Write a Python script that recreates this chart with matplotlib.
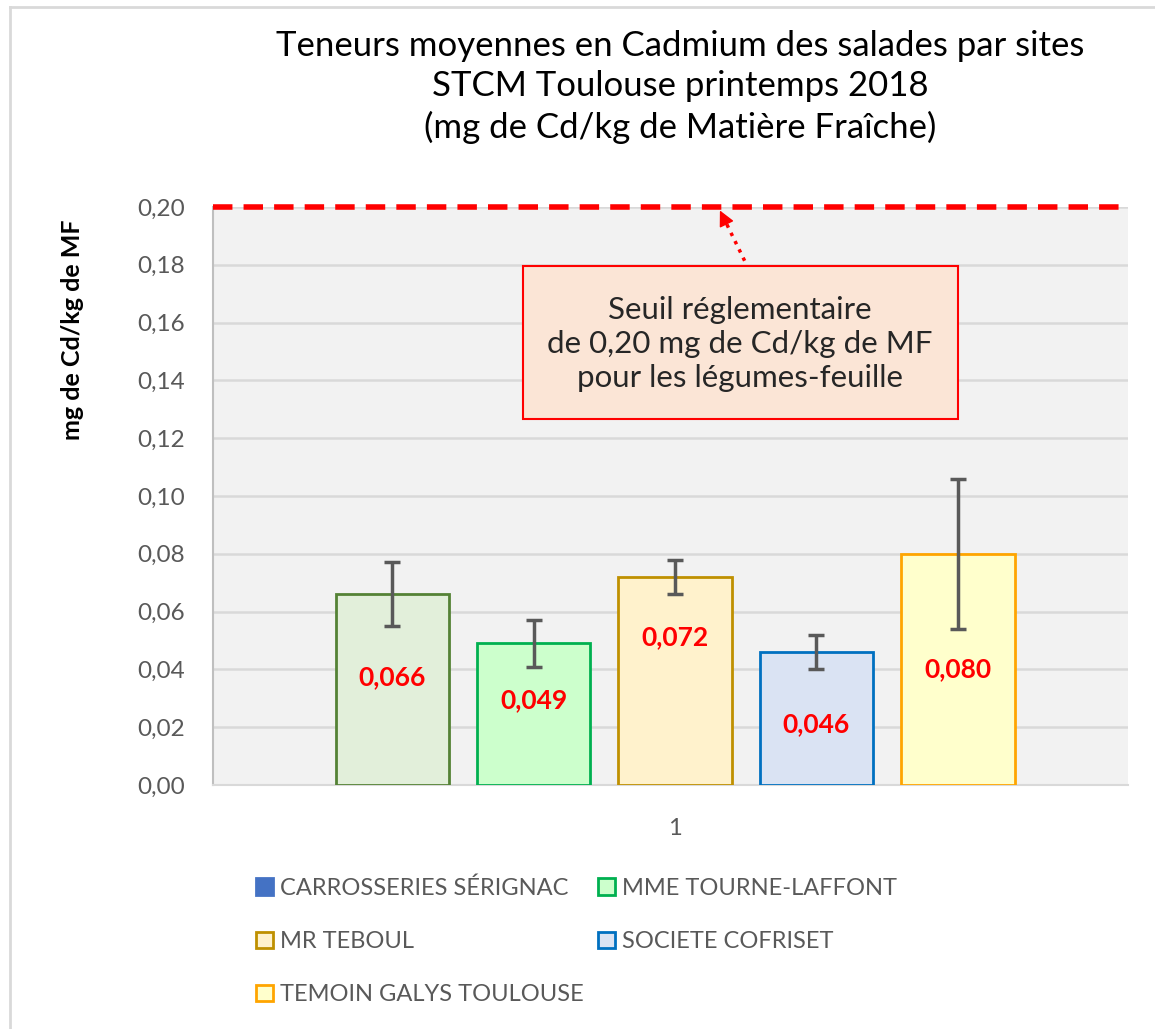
import matplotlib
matplotlib.use("Agg")
import matplotlib.pyplot as plt
from matplotlib.patches import Patch, Rectangle
from matplotlib.lines import Line2D

plt.rcParams['font.family'] = ['Lato', 'DejaVu Sans']

# data
sites = ["CARROSSERIES SÉRIGNAC", "MME TOURNE-LAFFONT", "MR TEBOUL",
         "SOCIETE COFRISET", "TEMOIN GALYS TOULOUSE"]
values = [0.066, 0.049, 0.072, 0.046, 0.080]
errors = [0.011, 0.008, 0.006, 0.006, 0.026]
value_labels = ["0,066", "0,049", "0,072", "0,046", "0,080"]
threshold = 0.20
yticks = [0.00, 0.02, 0.04, 0.06, 0.08, 0.10, 0.12, 0.14, 0.16, 0.18, 0.20]

# styles
fills = ["#E2EFDA", "#CCFFCC", "#FFF2CC", "#DAE3F3", "#FFFFCC"]
edges = ["#548235", "#00B050", "#BF9000", "#0070C0", "#FFA500"]
legend_fills = ["#4472C4", "#CCFFCC", "#FFF2CC", "#DAE3F3", "#FFFFCC"]
legend_edges = ["#4472C4", "#00B050", "#BF9000", "#0070C0", "#FFA500"]
label_y = [0.0374, 0.0294, 0.051, 0.021, 0.040]

W, H = 1155, 1029
fig = plt.figure(figsize=(W / 100, H / 100), dpi=100)
ax = fig.add_axes([213 / W, 1 - 785 / H, 915 / W, 578 / H])
ax.set_facecolor("#F2F2F2")

step = 0.1545
width = 0.124
xs = [1 + (i - 2) * step for i in range(len(values))]
ax.bar(xs, values, width=width, color=fills, edgecolor=edges, linewidth=2, zorder=3)
ax.errorbar(xs, values, yerr=errors, fmt="none", ecolor="#595959",
            elinewidth=2.5, capsize=6, capthick=2.5, zorder=4)
for x, ly, t in zip(xs, label_y, value_labels):
    ax.text(x, ly, t, color="#FF0000", fontsize=19, fontweight="bold",
            ha="center", va="center", zorder=5)

ax.axhline(threshold, color="#FF0000", lw=4, dashes=(3.5, 2), zorder=6, clip_on=False)

ax.set_xlim(0.495, 1.495)
ax.set_ylim(0, 0.20)
ax.set_yticks(yticks)
ax.set_yticklabels([f"{v:.2f}".replace(".", ",") for v in yticks])
ax.set_xticks([1])
ax.set_xticklabels(["1"])
ax.tick_params(axis="y", length=0, pad=20, labelsize=17.5, labelcolor="#595959")
ax.tick_params(axis="x", length=0, pad=24, labelsize=17, labelcolor="#595959")
ax.grid(axis="y", color="#D9D9D9", lw=1.8, zorder=0)
ax.set_axisbelow(True)
for s in ["top", "right"]:
    ax.spines[s].set_visible(False)
ax.spines["left"].set_color("#BFBFBF")
ax.spines["left"].set_linewidth(1.5)
ax.spines["bottom"].set_color("#D9D9D9")
ax.spines["bottom"].set_linewidth(1.5)

# threshold note
ax.add_patch(Rectangle((0.3388, 0.633), 0.4754, 0.265, transform=ax.transAxes,
                       facecolor="#FBE5D6", edgecolor="#FF0000", lw=1.5, zorder=7))
ax.text(0.576, 0.763, "Seuil réglementaire\nde 0,20 mg de Cd/kg de MF\npour les légumes-feuille",
        transform=ax.transAxes, ha="center", va="center", fontsize=22.5,
        color="#262626", linespacing=1.25, zorder=8)
# dotted shaft + solid head
ax.plot([0.581, 0.560], [0.907, 0.975], transform=ax.transAxes, color="#FF0000",
        lw=2.5, linestyle=":", zorder=8, clip_on=False)
ax.annotate("", xy=(0.554, 0.994), xytext=(0.562, 0.968),
            xycoords="axes fraction", textcoords="axes fraction",
            arrowprops=dict(arrowstyle="-|>", color="#FF0000", lw=1,
                            mutation_scale=24, shrinkA=0, shrinkB=0), zorder=8)

fig.text(73 / W, 1 - 330 / H, "mg de Cd/kg de MF", rotation=90, ha="center",
         va="center", fontsize=18, fontweight="bold", color="#000000")

fig.text(680 / W, 1 - 87 / H,
         "Teneurs moyennes en Cadmium des salades par sites\nSTCM Toulouse printemps 2018\n(mg de Cd/kg de Matière Fraîche)",
         ha="center", va="center", fontsize=25, color="#000000", linespacing=1.33)

order = [0, 2, 4, 1, 3]
handles = [Patch(facecolor=legend_fills[i], edgecolor=legend_edges[i], lw=2) for i in order]
labels = [sites[i] for i in order]
fig.legend(handles, labels, loc="upper left", bbox_to_anchor=(247 / W, 1 - 868 / H),
           ncol=2, frameon=False, fontsize=17, labelcolor="#595959",
           handlelength=0.7, handleheight=0.7, handletextpad=0.3,
           labelspacing=1.36, columnspacing=0.6, borderaxespad=0)

# chart area border
fig.add_artist(Line2D([10 / W, 1], [1 - 7 / H, 1 - 7 / H], color="#D9D9D9", lw=2))
fig.add_artist(Line2D([10 / W, 10 / W], [0, 1 - 7 / H], color="#D9D9D9", lw=2))

fig.savefig("out.png", dpi=100)
